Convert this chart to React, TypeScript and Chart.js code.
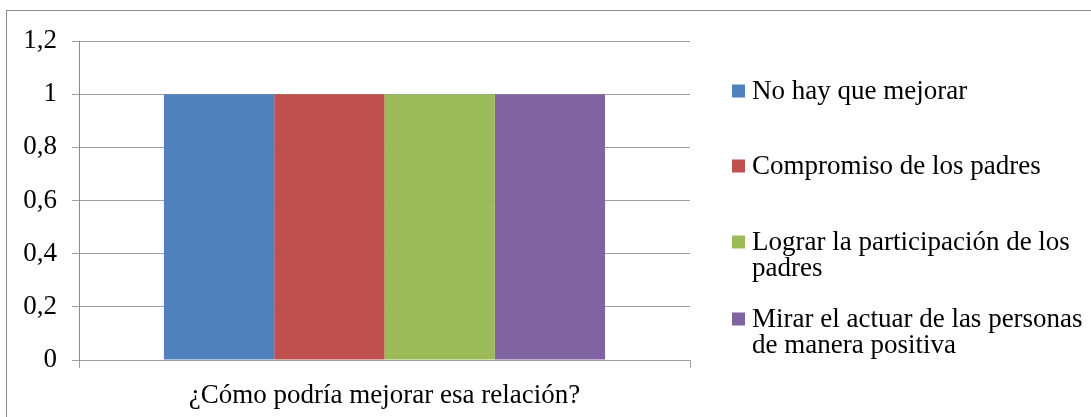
import React, { useEffect, useRef } from "react";
import { Chart, registerables } from "chart.js";

Chart.register(...registerables);

const categories = ["¿Cómo podría mejorar esa relación?"];
const seriesNames = [
  "No hay que mejorar",
  "Compromiso de los padres",
  "Lograr la participación de los padres",
  "Mirar el actuar de las personas de manera positiva",
];
const seriesNoHay = [1];
const seriesCompromiso = [1];
const seriesLograr = [1];
const seriesMirar = [1];
const seriesColors = ["#4F81BD", "#C0504D", "#9BBB59", "#8064A2"];

const FONT = '"Liberation Serif", "Times New Roman", serif';
const FONT_SIZE = 27;

function wrapText(ctx: CanvasRenderingContext2D, text: string, maxWidth: number): string[] {
  const words = text.split(" ");
  const lines: string[] = [];
  let cur = "";
  for (const w of words) {
    const test = cur ? cur + " " + w : w;
    if (ctx.measureText(test).width > maxWidth && cur) {
      lines.push(cur);
      cur = w;
    } else {
      cur = test;
    }
  }
  if (cur) lines.push(cur);
  return lines;
}

const sideLegend = {
  id: "sideLegend",
  afterDraw(chart: any) {
    const ctx: CanvasRenderingContext2D = chart.ctx;
    const boxX = 732;
    const textX = 752;
    const box = 13;
    const lineH = 26;
    const firstCenters = [92, 167, 243, 320];
    ctx.save();
    ctx.font = `${FONT_SIZE}px ${FONT}`;
    ctx.textBaseline = "middle";
    ctx.textAlign = "left";
    chart.data.datasets.forEach((ds: any, i: number) => {
      const lines = wrapText(ctx, ds.label, 342);
      const cy = firstCenters[i];
      ctx.fillStyle = ds.backgroundColor;
      ctx.fillRect(boxX, cy - box / 2 - 1, box, box);
      ctx.fillStyle = "#000";
      lines.forEach((ln, j) => ctx.fillText(ln, textX, cy + j * lineH));
    });
    ctx.restore();
  },
};

export default function App() {
  const ref = useRef<HTMLCanvasElement>(null);
  useEffect(() => {
    if (!ref.current) return;
    let chart: Chart | null = null;
    let cancelled = false;
    const build = () => {
      if (cancelled || !ref.current) return;
      Chart.defaults.font.family = FONT;
      Chart.defaults.font.size = FONT_SIZE;
      Chart.defaults.color = "#000";
      const values = [seriesNoHay, seriesCompromiso, seriesLograr, seriesMirar];
      chart = new Chart(ref.current, {
        type: "bar",
        data: {
          labels: categories,
          datasets: seriesNames.map((name, i) => ({
            label: name,
            data: values[i],
            backgroundColor: seriesColors[i],
            borderWidth: 0,
            barPercentage: 1,
            categoryPercentage: 0.722,
          })),
        },
        options: {
          responsive: false,
          animation: false,
          layout: { padding: { left: 0, top: 41, right: 401, bottom: 0 } },
          plugins: {
            legend: { display: false },
            tooltip: { enabled: false },
          },
          scales: {
            x: {
              offset: true,
              grid: {
                drawOnChartArea: false,
                drawTicks: true,
                tickLength: 8,
                color: "#a0a0a0",
                offset: true,
              },
              border: { color: "#a0a0a0" },
              ticks: { padding: 12, font: { size: FONT_SIZE, family: FONT }, color: "#000" },
              afterFit: (s: any) => {
                s.height = 57;
              },
            },
            y: {
              min: 0,
              max: 1.2,
              grid: { color: "#a0a0a0", tickLength: 7 },
              border: { color: "#8a8a8a" },
              ticks: {
                stepSize: 0.2,
                padding: 15,
                font: { size: FONT_SIZE, family: FONT },
                color: "#000",
                callback: (v: any) => String(Number(Number(v).toFixed(1))).replace(".", ","),
              },
              afterFit: (s: any) => {
                s.width = 79;
              },
            },
          },
        },
        plugins: [sideLegend],
      });
    };
    const fonts: any = (document as any).fonts;
    if (fonts && fonts.load) {
      fonts.load(`${FONT_SIZE}px "Liberation Serif"`).then(build, build);
    } else {
      build();
    }
    return () => {
      cancelled = true;
      if (chart) chart.destroy();
    };
  }, []);
  return (
    <div style={{ position: "fixed", left: 0, top: 0, width: 1091, height: 417, background: "#fff" }}>
      <span style={{ fontFamily: "Liberation Serif", position: "absolute", left: -9999, top: 0 }}>¿Áó</span>
      <div
        style={{
          position: "absolute",
          left: 6,
          top: 10,
          width: 2000,
          height: 1000,
          border: "1px solid #8a8a8a",
          boxSizing: "border-box",
        }}
      />
      <canvas ref={ref} width={1091} height={417} style={{ position: "absolute", left: 0, top: 0 }} />
    </div>
  );
}
